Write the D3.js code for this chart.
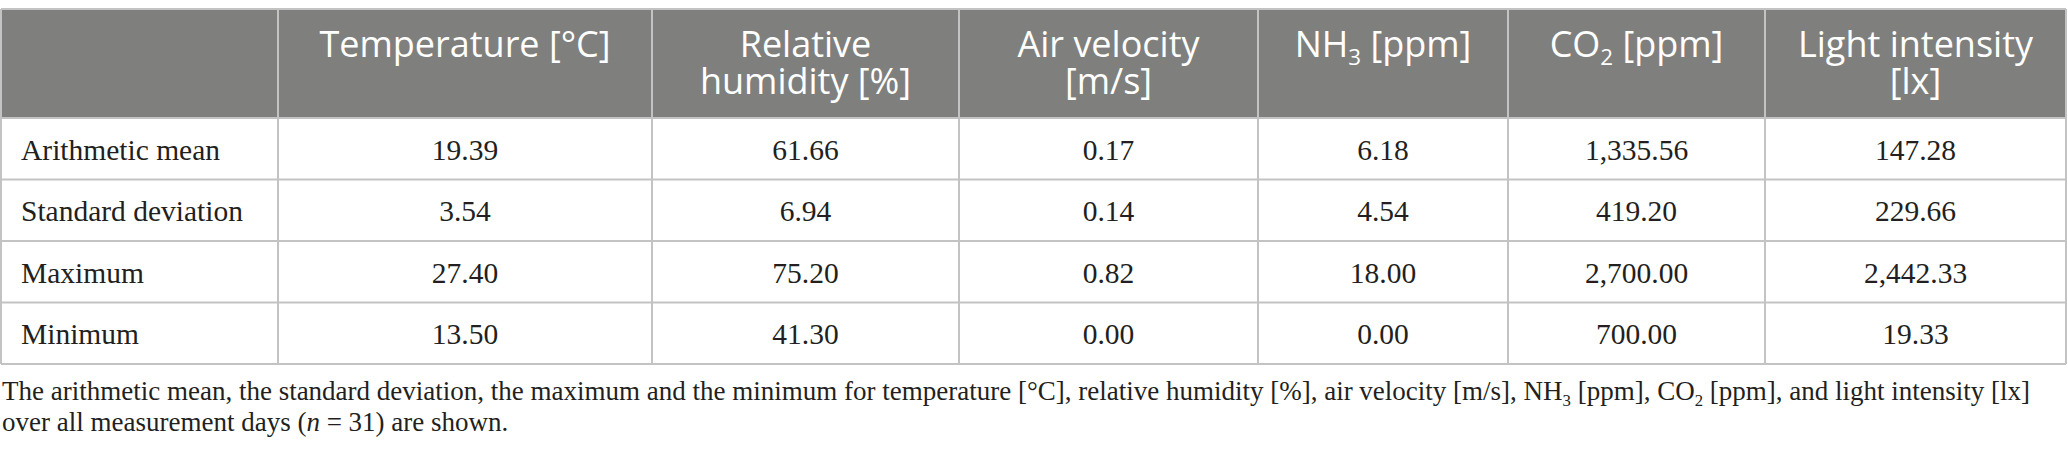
<!DOCTYPE html>
<html>
<head>
<meta charset="utf-8">
<script src="https://cdn.jsdelivr.net/npm/d3@7"></script>
<style>
  html, body { margin: 0; padding: 0; background: #fff; }
  svg { display: block; }
</style>
</head>
<body>
<svg id="table"></svg>
<script>
// 行ラベル
const rowLabels = ["Arithmetic mean", "Standard deviation", "Maximum", "Minimum"];

// 列見出し (行ごとに分割, _3 は下付き)
const columnLabels = [
  ["Temperature [°C]"],
  ["Relative", "humidity [%]"],
  ["Air velocity", "[m/s]"],
  ["NH_3 [ppm]"],
  ["CO_2 [ppm]"],
  ["Light intensity", "[lx]"],
];

// 各列の値: mean, sd, max, min
const temperature = [19.39, 3.54, 27.4, 13.5];
const humidity = [61.66, 6.94, 75.2, 41.3];
const airVelocity = [0.17, 0.14, 0.82, 0.0];
const nh3 = [6.18, 4.54, 18.0, 0.0];
const co2 = [1335.56, 419.2, 2700.0, 700.0];
const light = [147.28, 229.66, 2442.33, 19.33];

const captionLines = [
  "The arithmetic mean, the standard deviation, the maximum and the minimum for temperature [°C], relative humidity [%], air velocity [m/s], NH_3 [ppm], CO_2 [ppm], and light intensity [lx]",
  "over all measurement days (*n* = 31) are shown.",
];

const columns = [temperature, humidity, airVelocity, nh3, co2, light];

// svg のサイズ
const width = 2068;
const height = 458;

// 列の境界 (ラベル列 + 6 列)
const colEdges = [1, 278, 652, 959, 1258, 1508, 1765, 2066];
const tableTop = 9;
const headerBottom = 118;
const tableBottom = 364;

const headerFill = "#7f807e";
const lineColor = "#c3c3c3";
const textColor = "#231f20";

const svg = d3.select("#table").attr("width", width).attr("height", height);

const fmt = d3.format(",.2f");

const y = d3.scaleBand().domain(rowLabels).range([headerBottom, tableBottom]);
const colIndex = d3.range(colEdges.length - 1);
const x = d3.scaleOrdinal().domain(colIndex).range(colEdges.slice(0, -1));
const colWidth = (i) => colEdges[i + 1] - colEdges[i];

// 下付き文字とイタリックを tspan にする
function richText(sel, str, size) {
  const parts = str.split(/(_\d|\*[^*]+\*)/).filter((p) => p !== "");
  let shifted = false;
  parts.forEach((p) => {
    if (p.startsWith("_")) {
      sel.append("tspan")
        .attr("font-size", size * 0.62)
        .attr("dy", size * 0.22)
        .text(p.slice(1));
      shifted = true;
    } else {
      const t = sel.append("tspan").attr("dy", shifted ? -size * 0.22 : 0);
      shifted = false;
      if (p.startsWith("*")) {
        t.attr("font-style", "italic").text(p.slice(1, -1));
      } else {
        t.text(p);
      }
    }
  });
}

// ヘッダーの背景
svg.append("rect")
  .attr("x", colEdges[0])
  .attr("y", tableTop)
  .attr("width", colEdges[colEdges.length - 1] - colEdges[0])
  .attr("height", headerBottom - tableTop)
  .attr("fill", headerFill);

// 罫線 (横)
const hLines = [tableTop, headerBottom, ...rowLabels.map((r) => y(r) + y.bandwidth())];
svg.append("g")
  .selectAll("line")
  .data(hLines)
  .join("line")
  .attr("x1", colEdges[0])
  .attr("x2", colEdges[colEdges.length - 1])
  .attr("y1", (d) => d)
  .attr("y2", (d) => d)
  .attr("stroke", lineColor)
  .attr("stroke-width", 2);

// 罫線 (縦)
svg.append("g")
  .selectAll("line")
  .data(colEdges)
  .join("line")
  .attr("x1", (d) => d)
  .attr("x2", (d) => d)
  .attr("y1", tableTop)
  .attr("y2", tableBottom)
  .attr("stroke", lineColor)
  .attr("stroke-width", 2);

// 列見出し
const headSize = 36;
columnLabels.forEach((lines, i) => {
  const cx = x(i + 1) + colWidth(i + 1) / 2;
  lines.forEach((line, j) => {
    const t = svg.append("text")
      .attr("x", cx)
      .attr("y", 57 + j * 37)
      .attr("text-anchor", "middle")
      .attr("font-family", "'Open Sans', sans-serif")
      .attr("font-weight", 400)
      .attr("font-size", headSize)
      .attr("fill", "#fff");
    richText(t, line, headSize);
  });
});

// 行ラベル
const bodySize = 29.5;
svg.append("g")
  .selectAll("text")
  .data(rowLabels)
  .join("text")
  .attr("x", 21)
  .attr("y", (d) => y(d) + y.bandwidth() / 2 + 11)
  .attr("font-family", "'Liberation Serif', serif")
  .attr("font-size", bodySize)
  .attr("fill", textColor)
  .text((d) => d);

// 値のセル
columns.forEach((values, i) => {
  const cx = x(i + 1) + colWidth(i + 1) / 2;
  svg.append("g")
    .selectAll("text")
    .data(values)
    .join("text")
    .attr("x", cx)
    .attr("y", (d, k) => y(rowLabels[k]) + y.bandwidth() / 2 + 11)
    .attr("text-anchor", "middle")
    .attr("font-family", "'Liberation Serif', serif")
    .attr("font-size", bodySize)
    .attr("fill", textColor)
    .text((d) => fmt(d));
});

// 注記
const capSize = 27;
captionLines.forEach((line, j) => {
  const t = svg.append("text")
    .attr("x", 2)
    .attr("y", 400 + j * 31)
    .attr("font-family", "'Liberation Serif', serif")
    .attr("font-size", capSize)
    .attr("fill", textColor);
  richText(t, line, capSize);
});
</script>
</body>
</html>
